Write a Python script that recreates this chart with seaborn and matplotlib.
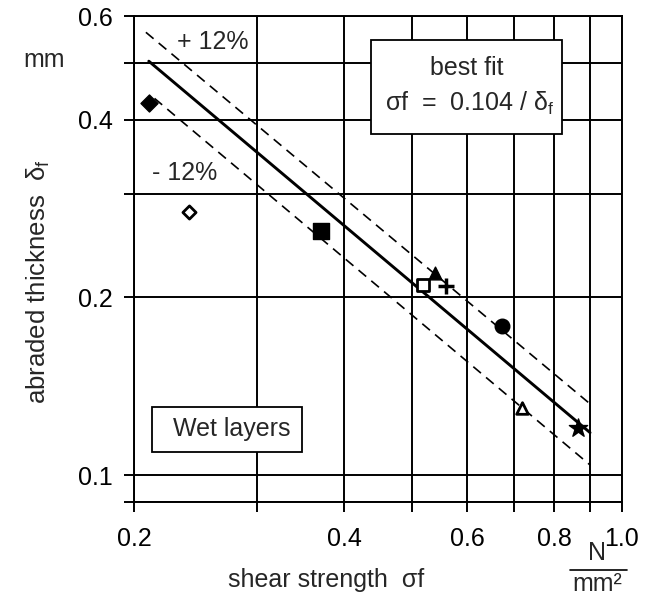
import matplotlib
matplotlib.use('Agg')
import matplotlib.pyplot as plt
import seaborn as sns
from matplotlib.patches import Rectangle
from matplotlib.ticker import FixedLocator, NullLocator, FixedFormatter
from matplotlib.lines import Line2D

sns.set_style('white')
plt.rcParams['font.family'] = ['Liberation Sans', 'DejaVu Sans']
plt.rcParams['mathtext.default'] = 'regular'

# data
shear = [0.210, 0.240, 0.371, 0.519, 0.540, 0.560, 0.673, 0.719, 0.865]
thick = [0.427, 0.279, 0.259, 0.210, 0.220, 0.209, 0.179, 0.130, 0.120]
markers = ['D', 'D', 's', 's', '^', '+', 'o', '^', '*']
filled = [True, False, True, False, True, True, True, False, True]
sizes = [75, 45, 120, 85, 85, 130, 110, 70, 190]

fit_x = [0.21, 0.90]
fit_y = [0.503, 0.118]
upper_x = [0.208, 0.90]
upper_y = [0.563, 0.132]
lower_x = [0.214, 0.90]
lower_y = [0.435, 0.104]

x_ticks = [0.2, 0.3, 0.4, 0.5, 0.6, 0.7, 0.8, 0.9, 1.0]
x_labels = ['0.2', '', '0.4', '', '0.6', '', '0.8', '', '1.0']
y_ticks = [0.09, 0.1, 0.2, 0.3, 0.4, 0.5, 0.6]
y_labels = ['', '0.1', '0.2', '', '0.4', '', '0.6']

W, H = 653, 596
FS = 18
fig = plt.figure(figsize=(W / 100, H / 100), dpi=100)
L, R, T, B = 134, 622, 16, 502
ax = fig.add_axes([L / W, 1 - B / H, (R - L) / W, (B - T) / H])

ax.set_xscale('log')
ax.set_yscale('log')
ax.set_xlim(0.2, 1.0)
ax.set_ylim(0.09, 0.6)

lw_grid = 1.4
ax.xaxis.set_major_locator(FixedLocator(x_ticks))
ax.xaxis.set_major_formatter(FixedFormatter(x_labels))
ax.xaxis.set_minor_locator(NullLocator())
ax.yaxis.set_major_locator(FixedLocator(y_ticks))
ax.yaxis.set_major_formatter(FixedFormatter(y_labels))
ax.yaxis.set_minor_locator(NullLocator())
ax.grid(True, which='major', color='black', linewidth=lw_grid)
ax.tick_params(axis='both', which='major', direction='out', length=7,
               width=lw_grid, color='black', labelsize=FS, labelcolor='black')
ax.tick_params(axis='x', pad=11, bottom=True)
ax.tick_params(axis='y', pad=8, left=True)
for s in ax.spines.values():
    s.set_color('black')
    s.set_linewidth(lw_grid)
    s.set_visible(True)

# lines
sns.lineplot(x=fit_x, y=fit_y, ax=ax, color='black', linewidth=2.1, zorder=3)
sns.lineplot(x=upper_x, y=upper_y, ax=ax, color='black', linewidth=1.2,
             zorder=3).lines[-1].set_dashes([6, 4])
sns.lineplot(x=lower_x, y=lower_y, ax=ax, color='black', linewidth=1.2,
             zorder=3).lines[-1].set_dashes([6, 4])

# points
for xv, yv, m, f, sz in zip(shear, thick, markers, filled, sizes):
    if m == '+':
        sns.scatterplot(x=[xv], y=[yv], ax=ax, marker=m, s=sz, color='black',
                        linewidth=2.5, zorder=4)
    else:
        sns.scatterplot(x=[xv], y=[yv], ax=ax, marker=m, s=sz,
                        facecolor='black' if f else 'white',
                        edgecolor='black', linewidth=2.0 if not f else 1.0,
                        zorder=4)

ax.set_xlabel('')
ax.set_ylabel('')

def fx(px):
    return px / W

def fy(py):
    return 1 - py / H

# labels on the plot
ax.text(fx(213), fy(42), '+ 12%', transform=fig.transFigure, fontsize=FS,
        ha='center', va='center')
ax.text(fx(185), fy(173), '- 12%', transform=fig.transFigure, fontsize=FS,
        ha='center', va='center')

# best fit box
fig.add_artist(Rectangle((fx(371), fy(134)), (562 - 371) / W, (134 - 40) / H,
                         transform=fig.transFigure, facecolor='white',
                         edgecolor='black', linewidth=1.3, zorder=5))
fig.text(fx(467), fy(68), 'best fit', fontsize=FS, ha='center', va='center',
         zorder=6)
fig.text(fx(470), fy(103), 'σf  =  0.104 / $δ_f$', fontsize=FS,
         ha='center', va='center', zorder=6)

# wet layers box
fig.add_artist(Rectangle((fx(152), fy(452)), (302 - 152) / W, (452 - 407) / H,
                         transform=fig.transFigure, facecolor='white',
                         edgecolor='black', linewidth=1.3, zorder=5))
fig.text(fx(232), fy(429), 'Wet layers', fontsize=FS, ha='center',
         va='center', zorder=6)

# axis titles
fig.text(fx(38), fy(282), 'abraded thickness  $\\mathregular{δ_f}$',
         fontsize=18.5, rotation=90, ha='center', va='center')
fig.text(fx(44), fy(60), 'mm', fontsize=FS, ha='center', va='center')
fig.text(fx(326), fy(580), 'shear strength  σf', fontsize=FS,
         ha='center', va='center')
fig.text(fx(597), fy(553), 'N', fontsize=FS, ha='center', va='center')
fig.add_artist(Line2D([fx(570), fx(627)], [fy(570), fy(570)],
                      transform=fig.transFigure, color='black', linewidth=1.2))
fig.text(fx(597), fy(584), 'mm²', fontsize=FS, ha='center', va='center')

fig.savefig('out.png', dpi=100, facecolor='white')
